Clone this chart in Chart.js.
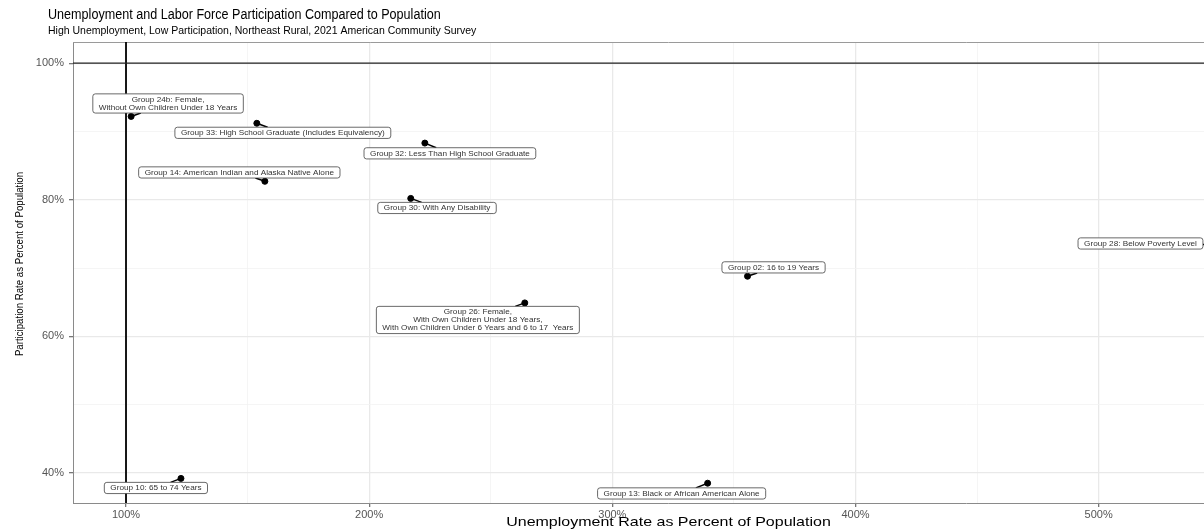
<!DOCTYPE html>
<html><head><meta charset="utf-8">
<script src="https://cdn.jsdelivr.net/npm/chart.js@4.4.0/dist/chart.umd.min.js"></script>
<style>html,body{margin:0;padding:0;background:#fff;overflow:hidden;width:1204px;height:529px}canvas{display:block}</style>
</head><body>
<canvas id="c" width="1270" height="529" style="width:1270px;height:529px"></canvas>
<script>
// ---- data ----
const groupLabels = [
  ["Group 24b: Female,", "Without Own Children Under 18 Years"],
  ["Group 33: High School Graduate (Includes Equivalency)"],
  ["Group 32: Less Than High School Graduate"],
  ["Group 14: American Indian and Alaska Native Alone"],
  ["Group 30: With Any Disability"],
  ["Group 02: 16 to 19 Years"],
  ["Group 26: Female,", "With Own Children Under 18 Years,", "With Own Children Under 6 Years and 6 to 17  Years"],
  ["Group 28: Below Poverty Level"],
  ["Group 10: 65 to 74 Years"],
  ["Group 13: Black or African American Alone"]
];
const unemploymentPct = [102.1, 153.8, 222.9, 157.1, 217.1, 355.6, 264.0, 555.0, 122.6, 339.2];
const participationPct = [92.2, 91.2, 88.3, 82.7, 80.2, 68.8, 64.9, 73.4, 39.2, 38.5];
const xTickValues = [100, 150, 200, 250, 300, 350, 400, 450, 500, 550];
const xMajorTicks = [100, 200, 300, 400, 500];
const yTickValues = [40, 50, 60, 70, 80, 90, 100];
const yMajorTicks = [40, 60, 80, 100];
const refX = 100, refY = 100;
const chartTitle = 'Unemployment and Labor Force Participation Compared to Population';
const chartSubtitle = 'High Unemployment, Low Participation, Northeast Rural, 2021 American Community Survey';
const xAxisTitle = 'Unemployment Rate as Percent of Population';
const yAxisTitle = 'Participation Rate as Percent of Population';

// ---- label placement (data units, repelled positions) ----
const labelAnchorX = [117.3, 164.5, 233.2, 146.6, 227.9, 366.3, 244.7, 517.2, 112.3, 328.5];
const labelAnchorY = [94.1, 89.8, 86.8, 84.0, 78.8, 70.1, 62.4, 73.6, 37.8, 37.0];

const FONT = '"Liberation Sans", Arial, Helvetica, sans-serif';
const points = unemploymentPct.map((x, i) => ({x, y: participationPct[i]}));

function roundRect(ctx, x, y, w, h, r) {
  ctx.beginPath();
  ctx.moveTo(x + r, y);
  ctx.lineTo(x + w - r, y); ctx.quadraticCurveTo(x + w, y, x + w, y + r);
  ctx.lineTo(x + w, y + h - r); ctx.quadraticCurveTo(x + w, y + h, x + w - r, y + h);
  ctx.lineTo(x + r, y + h); ctx.quadraticCurveTo(x, y + h, x, y + h - r);
  ctx.lineTo(x, y + r); ctx.quadraticCurveTo(x, y, x + r, y);
  ctx.closePath();
}
function drawText(ctx, str, x, y, o) {
  ctx.save();
  ctx.translate(x, y);
  if (o.rot) ctx.rotate(o.rot);
  ctx.scale(o.sx || 1, o.sy || 1);
  ctx.font = o.size + 'px ' + FONT;
  ctx.fillStyle = o.color || '#000';
  ctx.textAlign = o.align || 'left';
  ctx.textBaseline = o.baseline || 'alphabetic';
  ctx.fillText(str, 0, 0);
  ctx.restore();
}

const decor = {
  id: 'decor',
  beforeDatasetsDraw(chart) {
    const {ctx, chartArea: a, scales: {x, y}} = chart;
    ctx.save();
    ctx.strokeStyle = '#9a9a9a'; ctx.lineWidth = 1;
    ctx.beginPath(); ctx.moveTo(a.left, a.top + 0.5); ctx.lineTo(a.right, a.top + 0.5); ctx.stroke();
    ctx.strokeStyle = '#000'; ctx.lineWidth = 1.8;
    const px = x.getPixelForValue(refX);
    ctx.beginPath(); ctx.moveTo(px, a.top); ctx.lineTo(px, a.bottom); ctx.stroke();
    ctx.strokeStyle = '#222'; ctx.lineWidth = 1.1;
    const py = y.getPixelForValue(refY);
    ctx.beginPath(); ctx.moveTo(a.left, py); ctx.lineTo(a.right, py); ctx.stroke();
    ctx.restore();
  },
  afterDatasetsDraw(chart) {
    const {ctx, chartArea: a, scales: {x, y}} = chart;
    const fs = 8.2, lh = 8, padX = 6, padY = 1.6;
    ctx.save();
    ctx.beginPath(); ctx.rect(a.left, a.top, a.right - a.left, a.bottom - a.top); ctx.clip();
    ctx.font = fs + 'px ' + FONT;
    groupLabels.forEach((lines, i) => {
      const cx = x.getPixelForValue(labelAnchorX[i]);
      const cy = y.getPixelForValue(labelAnchorY[i]);
      const w = Math.max(...lines.map(l => ctx.measureText(l).width)) + 2 * padX;
      const h = lines.length * lh + 2 * padY;
      const ppx = x.getPixelForValue(unemploymentPct[i]);
      const ppy = y.getPixelForValue(participationPct[i]);
      const dx = ppx - cx, dy = ppy - cy;
      const s = Math.min(dx ? (w / 2) / Math.abs(dx) : Infinity, dy ? (h / 2) / Math.abs(dy) : Infinity);
      if (s < 1) {
        ctx.strokeStyle = '#000'; ctx.lineWidth = 1.5;
        ctx.beginPath(); ctx.moveTo(ppx, ppy); ctx.lineTo(cx + dx * s, cy + dy * s); ctx.stroke();
      }
      roundRect(ctx, cx - w / 2, cy - h / 2, w, h, 2.5);
      ctx.fillStyle = '#fff'; ctx.fill();
      ctx.strokeStyle = '#444'; ctx.lineWidth = 0.8; ctx.stroke();
      lines.forEach((l, k) => {
        drawText(ctx, l, cx, cy - h / 2 + padY + lh * (k + 0.5) + 0.4,
          {size: fs, sy: 0.85, color: '#333', align: 'center', baseline: 'middle'});
      });
    });
    ctx.restore();
  },
  afterDraw(chart) {
    const {ctx, chartArea: a} = chart;
    drawText(ctx, chartTitle, 48, 19, {size: 12.6, sy: 1.1});
    drawText(ctx, chartSubtitle, 48, 34, {size: 10.5});
    drawText(ctx, xAxisTitle, (a.left + a.right) / 2, 522, {size: 16, sy: 0.8, baseline: 'middle', align: 'center'});
    drawText(ctx, yAxisTitle, 19.5, 264, {size: 11.5, sx: 0.84, rot: -Math.PI / 2, baseline: 'middle', align: 'center'});
  }
};

new Chart(document.getElementById('c'), {
  type: 'scatter',
  data: {datasets: [{
    data: points,
    backgroundColor: '#000', borderColor: '#000',
    pointRadius: 3, pointHoverRadius: 3, clip: 0
  }]},
  options: {
    responsive: false, animation: false,
    plugins: {legend: {display: false}, tooltip: {enabled: false}},
    layout: {padding: {top: 42, left: 0, right: 6, bottom: 0}},
    scales: {
      x: {
        type: 'linear', min: 78.2, max: 568,
        afterBuildTicks: s => { s.ticks = xTickValues.map(v => ({value: v})); },
        afterFit: s => { s.height = 26; },
        ticks: {
          autoSkip: false, maxRotation: 0, padding: 1, color: '#555',
          font: {family: FONT, size: 11},
          callback: v => xMajorTicks.includes(v) ? v + '%' : ''
        },
        grid: {
          color: c => xMajorTicks.includes(c.tick && c.tick.value) ? '#e9e9e9' : '#f3f3f3',
          lineWidth: c => xMajorTicks.includes(c.tick && c.tick.value) ? 1.3 : 0.8,
          tickColor: c => xMajorTicks.includes(c.tick && c.tick.value) ? '#777' : 'rgba(0,0,0,0)',
          tickLength: 4
        },
        border: {display: true, color: '#8a8a8a', width: 1},
        title: {display: false}
      },
      y: {
        type: 'linear', min: 35.6, max: 103.1,
        afterBuildTicks: s => { s.ticks = yTickValues.map(v => ({value: v})); },
        afterFit: s => { s.width = 73; },
        ticks: {
          autoSkip: false, padding: 5, color: '#555',
          font: {family: FONT, size: 11},
          callback: v => yMajorTicks.includes(v) ? v + '%' : ''
        },
        grid: {
          color: c => yMajorTicks.includes(c.tick && c.tick.value) ? '#e9e9e9' : '#f3f3f3',
          lineWidth: c => yMajorTicks.includes(c.tick && c.tick.value) ? 1.3 : 0.8,
          tickColor: c => yMajorTicks.includes(c.tick && c.tick.value) ? '#777' : 'rgba(0,0,0,0)',
          tickLength: 4
        },
        border: {display: true, color: '#8a8a8a', width: 1},
        title: {display: false}
      }
    }
  },
  plugins: [decor]
});
</script>
</body></html>
